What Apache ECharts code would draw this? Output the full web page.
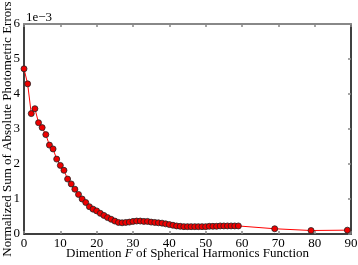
<!DOCTYPE html>
<html><head><meta charset="utf-8">
<script src="https://cdn.jsdelivr.net/npm/echarts@6/dist/echarts.min.js"></script>
<style>html,body{margin:0;padding:0;background:#fff}#c{width:358px;height:265px}</style>
</head><body><div id="c"></div>
<script>
const dims = [0,1,2,3,4,5,6,7,8,9,10,11,12,13,14,15,16,17,18,19,20,21,22,23,24,25,26,27,28,29,30,31,32,33,34,35,36,37,38,39,40,41,42,43,44,45,46,47,48,49,50,51,52,53,54,55,56,57,58,59,69,79,89];
const errors = [4.72,4.29,3.44,3.58,3.18,3.04,2.84,2.54,2.43,2.14,1.96,1.82,1.57,1.43,1.28,1.13,1.00,0.90,0.78,0.71,0.66,0.59,0.53,0.47,0.42,0.37,0.33,0.32,0.33,0.34,0.36,0.37,0.37,0.36,0.36,0.34,0.33,0.32,0.31,0.29,0.27,0.25,0.23,0.22,0.21,0.21,0.21,0.21,0.21,0.21,0.21,0.22,0.22,0.22,0.23,0.23,0.23,0.23,0.23,0.23,0.15,0.10,0.11];
const xTicks = [0,10,20,30,40,50,60,70,80,90];
const yTicks = [0,1,2,3,4,5,6];
const xLabel = 'Dimention {i|F} of Spherical Harmonics Function';
const yLabel = 'Normalized Sum of Absolute Photometric Errors';
const scaleText = '1e\u22123';

const font = "'Liberation Serif', 'Times New Roman', serif";
const chart = echarts.init(document.getElementById('c'), null, {renderer:'canvas'});
const tickStyle = {show:true, inside:true, length:3, lineStyle:{color:'#888', width:1.5}};
chart.setOption({
  animation:false,
  grid:{left:24, right:7, top:24, bottom:31, containLabel:false, outerBoundsMode:'none'},
  xAxis:[{
    type:'value', min:xTicks[0], max:xTicks[xTicks.length-1], interval:10,
    axisLine:{show:true, onZero:false, lineStyle:{color:'#000', width:1.5}},
    axisTick:tickStyle,
    splitLine:{show:false},
    axisLabel:{color:'#000', fontFamily:font, fontSize:13, margin:3},
    name:xLabel, nameLocation:'middle', nameGap:13, nameMoveOverlap:false,
    nameTextStyle:{color:'#000', fontFamily:font, fontSize:13, verticalAlign:'top', rich:{i:{fontStyle:'italic', fontFamily:font, fontSize:13, color:'#000'}}}
  },{
    type:'value', position:'top', min:0, max:90, interval:10,
    axisLine:{show:true, onZero:false, lineStyle:{color:'#888', width:2}},
    axisTick:tickStyle, axisLabel:{show:false}, splitLine:{show:false}
  }],
  yAxis:[{
    type:'value', min:yTicks[0], max:yTicks[yTicks.length-1], interval:1,
    axisLine:{show:true, onZero:false, lineStyle:{color:'#000', width:1.5}},
    axisTick:{show:false},
    splitLine:{show:false},
    axisLabel:{color:'#000', fontFamily:font, fontSize:13, margin:4},
    name:yLabel, nameLocation:'middle', nameGap:10, nameRotate:90, nameMoveOverlap:false,
    nameTextStyle:{color:'#000', fontFamily:font, fontSize:13}
  },{
    type:'value', position:'right', min:0, max:6, interval:1,
    axisLine:{show:true, onZero:false, lineStyle:{color:'#000', width:1.5}},
    axisTick:tickStyle, axisLabel:{show:false}, splitLine:{show:false}
  }],
  graphic:[{type:'text', left:26, top:11, style:{text:scaleText, font:"13px 'Liberation Serif', serif", fill:'#000'}}],
  series:[{
    type:'line', data:dims.map((d,i)=>[d, errors[i]]),
    lineStyle:{color:'#f00', width:1},
    symbol:'circle', symbolSize:6,
    itemStyle:{color:'#e00', borderColor:'#222', borderWidth:0.8},
    z:3
  }]
});
</script></body></html>
